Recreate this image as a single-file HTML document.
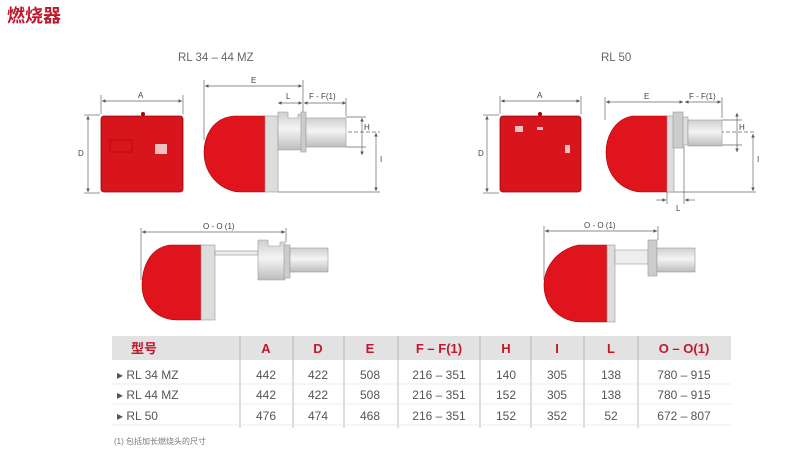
<!DOCTYPE html>
<html><head><meta charset="utf-8"><style>
body{margin:0;background:#fff;width:800px;height:475px;overflow:hidden;font-family:"Liberation Sans","Noto Sans CJK SC",sans-serif}
svg{position:absolute;left:0;top:0}
</style></head><body>
<svg width="800" height="475" viewBox="0 0 800 475" xmlns="http://www.w3.org/2000/svg" font-family="Liberation Sans, Noto Sans CJK SC, sans-serif">
<defs>
<marker id="a" markerWidth="6" markerHeight="6" refX="5" refY="3" orient="auto-start-reverse"><path d="M0,0.5 L5,3 L0,5.5Z" fill="#555"/></marker>
<linearGradient id="t" x1="0" y1="0" x2="0" y2="1"><stop offset="0" stop-color="#cfcfcf"/><stop offset=".45" stop-color="#f4f4f4"/><stop offset="1" stop-color="#bdbdbd"/></linearGradient>
</defs>
<text x="7" y="22" font-size="18" font-weight="bold" fill="#c0182c">燃烧器</text>
<text x="178" y="61" font-size="11.5" fill="#666">RL 34 – 44 MZ</text>
<text x="601" y="61" font-size="11.5" fill="#666">RL 50</text>
<g stroke="#666" stroke-width="0.7" fill="none">
<line x1="102" y1="101" x2="182" y2="101" marker-start="url(#a)" marker-end="url(#a)"/>
<line x1="101" y1="95" x2="101" y2="114"/><line x1="183" y1="95" x2="183" y2="114"/>
<line x1="88" y1="116" x2="88" y2="192" marker-start="url(#a)" marker-end="url(#a)"/>
<line x1="84" y1="115" x2="100" y2="115"/><line x1="84" y1="193" x2="100" y2="193"/>
<line x1="205" y1="86" x2="302" y2="86" marker-start="url(#a)" marker-end="url(#a)"/>
<line x1="204" y1="80" x2="204" y2="140"/><line x1="303" y1="80" x2="303" y2="112"/>
<line x1="278" y1="103" x2="302" y2="103" marker-start="url(#a)" marker-end="url(#a)"/>
<line x1="304" y1="103" x2="346" y2="103" marker-start="url(#a)" marker-end="url(#a)"/>
<line x1="346" y1="98" x2="346" y2="116"/>
<line x1="362" y1="118" x2="362" y2="155" marker-start="url(#a)" marker-end="url(#a)"/>
<line x1="346" y1="117" x2="366" y2="117"/><line x1="346" y1="147" x2="366" y2="147"/>
<line x1="376" y1="133" x2="376" y2="191" marker-start="url(#a)" marker-end="url(#a)"/>
<line x1="330" y1="132" x2="380" y2="132" stroke-dasharray="4 2"/>
<line x1="278" y1="192" x2="380" y2="192"/>
<line x1="142" y1="232" x2="285" y2="232" marker-start="url(#a)" marker-end="url(#a)"/>
<line x1="141" y1="228" x2="141" y2="280"/><line x1="286" y1="228" x2="286" y2="242"/>
<line x1="501" y1="101" x2="580" y2="101" marker-start="url(#a)" marker-end="url(#a)"/>
<line x1="500" y1="96" x2="500" y2="114"/><line x1="581" y1="96" x2="581" y2="114"/>
<line x1="487" y1="116" x2="487" y2="192" marker-start="url(#a)" marker-end="url(#a)"/>
<line x1="483" y1="115" x2="499" y2="115"/><line x1="483" y1="193" x2="499" y2="193"/>
<line x1="606" y1="102" x2="683" y2="102" marker-start="url(#a)" marker-end="url(#a)"/>
<line x1="605" y1="97" x2="605" y2="120"/>
<line x1="685" y1="102" x2="721" y2="102" marker-start="url(#a)" marker-end="url(#a)"/>
<line x1="722" y1="97" x2="722" y2="118"/>
<line x1="737" y1="113" x2="737" y2="152" marker-start="url(#a)" marker-end="url(#a)"/>
<line x1="722" y1="120" x2="742" y2="120"/><line x1="722" y1="145" x2="742" y2="145"/>
<line x1="753" y1="134" x2="753" y2="191" marker-start="url(#a)" marker-end="url(#a)"/>
<line x1="690" y1="132" x2="756" y2="132" stroke-dasharray="4 2"/>
<line x1="667" y1="192" x2="756" y2="192"/>
<line x1="667" y1="192" x2="667" y2="204"/><line x1="684" y1="146" x2="684" y2="204"/>
<line x1="656" y1="200" x2="666" y2="200" marker-end="url(#a)"/>
<line x1="695" y1="200" x2="685" y2="200" marker-end="url(#a)"/>
<line x1="545" y1="231" x2="657" y2="231" marker-start="url(#a)" marker-end="url(#a)"/>
<line x1="544" y1="226" x2="544" y2="280"/><line x1="658" y1="226" x2="658" y2="240"/>
</g>
<g font-size="8" fill="#444">
<text x="138" y="98">A</text><text x="78" y="156">D</text>
<text x="251" y="83">E</text><text x="286" y="99">L</text><text x="309" y="99">F - F(1)</text>
<text x="364" y="130">H</text><text x="380" y="162">I</text>
<text x="203" y="229">O - O (1)</text>
<text x="537" y="98">A</text><text x="478" y="156">D</text>
<text x="644" y="99">E</text><text x="689" y="99">F - F(1)</text>
<text x="739" y="130">H</text><text x="757" y="162">I</text><text x="676" y="211">L</text>
<text x="584" y="228">O - O (1)</text>
</g>
<rect x="101" y="116" width="82" height="76" rx="3" fill="#d8141c" stroke="#8a0a10" stroke-width="0.8"/>
<rect x="110" y="140" width="22" height="12" fill="none" stroke="#a00" stroke-width="0.6"/>
<rect x="155" y="144" width="12" height="10" fill="#f2c0c0"/>
<circle cx="143" cy="114" r="2" fill="#a00"/>
<path d="M265,116 L234,116 C210,118 204,140 204,152 C204,178 225,192 240,192 L265,192Z" fill="#e0141c" stroke="#a00" stroke-width="0.6"/>
<rect x="265" y="116" width="13" height="76" fill="#ddd" stroke="#999" stroke-width="0.6"/>
<path d="M278,112 L288,112 L288,118 L298,118 L298,114 L302,114 L302,150 L278,150Z" fill="url(#t)" stroke="#999" stroke-width="0.6"/>
<rect x="301" y="112" width="5" height="40" fill="#ccc" stroke="#999" stroke-width="0.6"/>
<rect x="306" y="118" width="40" height="29" fill="url(#t)" stroke="#999" stroke-width="0.6"/>
<path d="M201,245 L170,245 C148,248 142,270 142,285 C142,308 160,320 178,320 L201,320Z" fill="#e0141c" stroke="#a00" stroke-width="0.6"/>
<rect x="201" y="245" width="14" height="75" fill="#ddd" stroke="#999" stroke-width="0.6"/>
<rect x="215" y="251" width="43" height="4" fill="#eee" stroke="#888" stroke-width="0.6"/>
<path d="M258,240 L268,240 L268,246 L280,246 L280,242 L285,242 L285,280 L258,280Z" fill="url(#t)" stroke="#999" stroke-width="0.6"/>
<rect x="284" y="245" width="6" height="33" fill="#ccc" stroke="#999" stroke-width="0.6"/>
<rect x="290" y="248" width="38" height="24" fill="url(#t)" stroke="#999" stroke-width="0.6"/>
<rect x="500" y="116" width="81" height="76" rx="3" fill="#d8141c" stroke="#8a0a10" stroke-width="0.8"/>
<rect x="515" y="126" width="8" height="6" fill="#f2c0c0"/><rect x="537" y="127" width="6" height="3" fill="#f2c0c0"/>
<rect x="565" y="145" width="5" height="8" fill="#f2c0c0"/>
<circle cx="540" cy="114" r="2" fill="#a00"/>
<path d="M667,116 L632,116 C612,120 606,140 606,152 C606,178 625,192 642,192 L667,192Z" fill="#e0141c" stroke="#a00" stroke-width="0.6"/>
<rect x="667" y="116" width="7" height="76" fill="#ddd" stroke="#999" stroke-width="0.6"/>
<rect x="673" y="112" width="10" height="36" fill="#ccc" stroke="#999" stroke-width="0.6"/>
<rect x="683" y="117" width="5" height="28" fill="#ddd" stroke="#999" stroke-width="0.6"/>
<rect x="688" y="120" width="34" height="26" fill="url(#t)" stroke="#999" stroke-width="0.6"/>
<path d="M607,245 L578,245 C556,250 544,268 544,285 C544,308 562,322 582,322 L607,322Z" fill="#e0141c" stroke="#a00" stroke-width="0.6"/>
<rect x="607" y="245" width="8" height="77" fill="#ddd" stroke="#999" stroke-width="0.6"/>
<rect x="615" y="250" width="33" height="14" fill="#eee" stroke="#999" stroke-width="0.6"/>
<rect x="648" y="240" width="9" height="36" fill="#ccc" stroke="#999" stroke-width="0.6"/>
<rect x="657" y="248" width="38" height="24" fill="url(#t)" stroke="#999" stroke-width="0.6"/>
<rect x="112" y="336" width="619" height="24" fill="#e2e2e2"/>
<g stroke="#aaa" stroke-width="0.8">
<line x1="240" y1="336" x2="240" y2="428"/><line x1="293" y1="336" x2="293" y2="428"/>
<line x1="344" y1="336" x2="344" y2="428"/><line x1="398" y1="336" x2="398" y2="428"/>
<line x1="480" y1="336" x2="480" y2="428"/><line x1="531" y1="336" x2="531" y2="428"/>
<line x1="584" y1="336" x2="584" y2="428"/><line x1="638" y1="336" x2="638" y2="428"/>
<line x1="112" y1="384" x2="731" y2="384" stroke="#e4e4e4"/><line x1="112" y1="404" x2="731" y2="404" stroke="#e4e4e4"/>
<line x1="112" y1="425" x2="731" y2="425" stroke="#e4e4e4"/>
</g>
<g font-size="13" font-weight="bold" fill="#c0182c" text-anchor="middle">
<text x="144" y="353">型号</text><text x="266" y="353">A</text><text x="318" y="353">D</text><text x="370" y="353">E</text>
<text x="439" y="353">F – F(1)</text><text x="506" y="353">H</text><text x="557" y="353">I</text><text x="611" y="353">L</text><text x="684" y="353">O – O(1)</text>
</g>
<g font-size="12" fill="#555">
<text x="117" y="379">▸ RL 34 MZ</text><text x="117" y="399">▸ RL 44 MZ</text><text x="117" y="420">▸ RL 50</text>
</g>
<g font-size="12" fill="#555" text-anchor="middle">
<text x="266" y="379">442</text><text x="318" y="379">422</text><text x="370" y="379">508</text><text x="439" y="379">216 – 351</text><text x="506" y="379">140</text><text x="557" y="379">305</text><text x="611" y="379">138</text><text x="684" y="379">780 – 915</text>
<text x="266" y="399">442</text><text x="318" y="399">422</text><text x="370" y="399">508</text><text x="439" y="399">216 – 351</text><text x="506" y="399">152</text><text x="557" y="399">305</text><text x="611" y="399">138</text><text x="684" y="399">780 – 915</text>
<text x="266" y="420">476</text><text x="318" y="420">474</text><text x="370" y="420">468</text><text x="439" y="420">216 – 351</text><text x="506" y="420">152</text><text x="557" y="420">352</text><text x="611" y="420">52</text><text x="684" y="420">672 – 807</text>
</g>
<text x="114" y="444" font-size="8" fill="#777">(1) 包括加长燃烧头的尺寸</text>
</svg>
</body></html>
